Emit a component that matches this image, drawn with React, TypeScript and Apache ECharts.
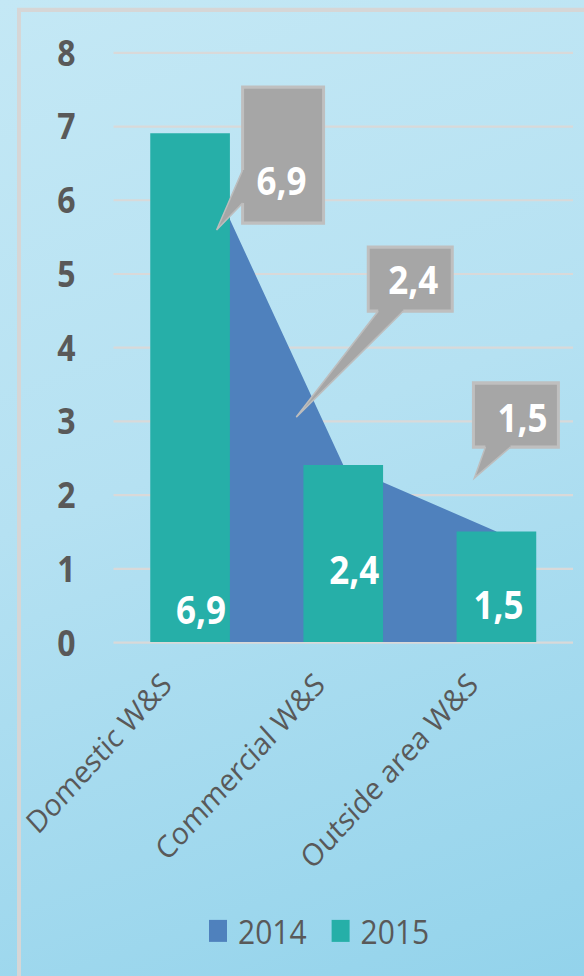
import React, { useEffect, useRef } from "react";
import * as echarts from "echarts";

// ---- data ----
const categories = ["Domestic W&S", "Commercial W&S", "Outside area W&S"];
const seriesNames = ["2014", "2015"];
const values2014 = [6.9, 2.4, 1.5];
const values2015 = [6.9, 2.4, 1.5];
const yMin = 0;
const yMax = 8;
const yInterval = 1;

// ---- styling / layout (pixel offsets, not data) ----
const W = 584;
const H_IMG = 976;
const H = 887; // chart drawn at this height, then stretched vertically
const STRETCH = H_IMG / H;

const COLOR_AREA = "#4F81BD";
const COLOR_BAR = "#26AFA8";
const TEXT = "#595959";
const FONT = "Open Sans";

// label offsets for bar labels [dx, dy]
const barLabelOffsets = [
  [11, -12],
  [11, -49],
  [2, -17],
];

// callout geometry relative to the data point
const callouts = [
  { left: 52.5, top: -41.9, w: 81, h: 123.6, tx: 91.5, ty: 43, tip: [26.5, 88], b1: [52.5, 33.5], b2: [52.5, 63.5], inset: [3, 0] },
  { left: 25, top: -198.1, w: 84, h: 58.2, tx: 70, ty: -169, tip: [-47, -43.6], b1: [35, -139.9], b2: [60, -139.9], inset: [0, -3] },
  { left: -23, top: -134.9, w: 85, h: 58.2, tx: 26, ty: -104, tip: [-22, -48.6], b1: [-11, -76.7], b2: [14, -76.7], inset: [0, -3] },
];

const fmt = (v: number) => v.toFixed(1).replace(".", ",");

function buildOption() {
  return {
    animation: false,
    textStyle: { fontFamily: FONT },
    graphic: [
      {
        type: "rect",
        silent: true,
        z: -10,
        shape: { x: 19, y: 9, width: 800, height: 1200 },
        style: { fill: "none", stroke: "#D6D6D6", lineWidth: 4 },
      },
    ],
    grid: { left: 113.5, right: W - 573, top: 47.3, bottom: H - 583.5, containLabel: false },
    legend: {
      data: seriesNames,
      left: 204,
      top: 826,
      icon: "rect",
      itemWidth: 18,
      itemHeight: 20,
      itemGap: 25,
      textStyle: { fontSize: 30, color: TEXT, fontFamily: FONT, padding: [0, 0, 0, 6] },
    },
    xAxis: {
      type: "category",
      data: categories,
      axisTick: { show: false },
      axisLine: { show: false },
      axisLabel: {
        interval: 0,
        rotate: 45,
        margin: 9,
        fontSize: 28,
        color: TEXT,
        fontFamily: FONT,
        padding: [0, 34, 0, 0],
      },
    },
    yAxis: {
      type: "value",
      min: yMin,
      max: yMax,
      interval: yInterval,
      axisLine: { show: false },
      axisTick: { show: false },
      axisLabel: { margin: 38, fontSize: 32, fontWeight: "bold", color: TEXT, fontFamily: FONT },
      splitLine: { lineStyle: { color: "#D9D9D9", width: 2 } },
    },
    series: [
      {
        name: seriesNames[0],
        type: "line",
        data: values2014,
        symbol: "none",
        z: 1,
        lineStyle: { width: 0, color: COLOR_AREA },
        itemStyle: { color: COLOR_AREA },
        areaStyle: { color: COLOR_AREA, opacity: 1 },
      },
      {
        name: seriesNames[1],
        type: "bar",
        barWidth: "52%",
        z: 3,
        itemStyle: { color: COLOR_BAR },
        data: values2015.map((v, i) => ({ value: v, label: { offset: barLabelOffsets[i] } })),
        label: {
          show: true,
          position: "insideBottom",
          distance: 0,
          formatter: (p: any) => fmt(p.value),
          color: "#FFFFFF",
          fontSize: 35,
          fontWeight: "bold",
          fontFamily: FONT,
        },
      },
      {
        name: "callouts",
        type: "custom",
        coordinateSystem: "cartesian2d",
        z: 5,
        silent: true,
        clip: false,
        data: values2014.map((v, i) => [i, v]),
        encode: { x: 0, y: 1 },
        renderItem: (params: any, api: any) => {
          const i = params.dataIndex;
          const c = callouts[i];
          const p = api.coord([api.value(0), api.value(1)]);
          const px = p[0];
          const py = p[1];
          const b1 = [px + c.b1[0], py + c.b1[1]];
          const b2 = [px + c.b2[0], py + c.b2[1]];
          const tip = [px + c.tip[0], py + c.tip[1]];
          return {
            type: "group",
            children: [
              {
                type: "rect",
                shape: { x: px + c.left, y: py + c.top, width: c.w, height: c.h },
                style: { fill: "#A6A6A6", stroke: "#BFBFBF", lineWidth: 3 },
              },
              {
                type: "polygon",
                shape: {
                  points: [
                    [b1[0] + c.inset[0], b1[1] + c.inset[1]],
                    b1,
                    tip,
                    b2,
                    [b2[0] + c.inset[0], b2[1] + c.inset[1]],
                  ],
                },
                style: { fill: "#A6A6A6" },
              },
              {
                type: "polyline",
                shape: { points: [b1, tip, b2] },
                style: { fill: "none", stroke: "#BDBDBD", lineWidth: 1.5 },
              },
              {
                type: "text",
                style: {
                  text: fmt(api.value(1)),
                  x: px + c.tx,
                  y: py + c.ty,
                  fill: "#FFFFFF",
                  fontSize: 35,
                  fontWeight: "bold",
                  fontFamily: FONT,
                  align: "center",
                  verticalAlign: "middle",
                },
              },
            ],
          };
        },
      },
    ],
  };
}

export default function App() {
  const ref = useRef<HTMLDivElement>(null);
  useEffect(() => {
    if (!ref.current) return;
    const chart = echarts.init(ref.current, null, { renderer: "svg" });
    chart.setOption(buildOption() as any);
    return () => {
      chart.dispose();
    };
  }, []);
  return (
    <div
      style={{
        position: "fixed",
        left: 0,
        top: 0,
        width: W,
        height: H_IMG,
        overflow: "hidden",
        background: "linear-gradient(160deg, #C4E8F5 0%, #B5E1F2 45%, #93D3EB 100%)",
      }}
    >
      <div
        ref={ref}
        style={{ width: W, height: H, transform: `scaleY(${STRETCH})`, transformOrigin: "0 0" }}
      />
    </div>
  );
}
